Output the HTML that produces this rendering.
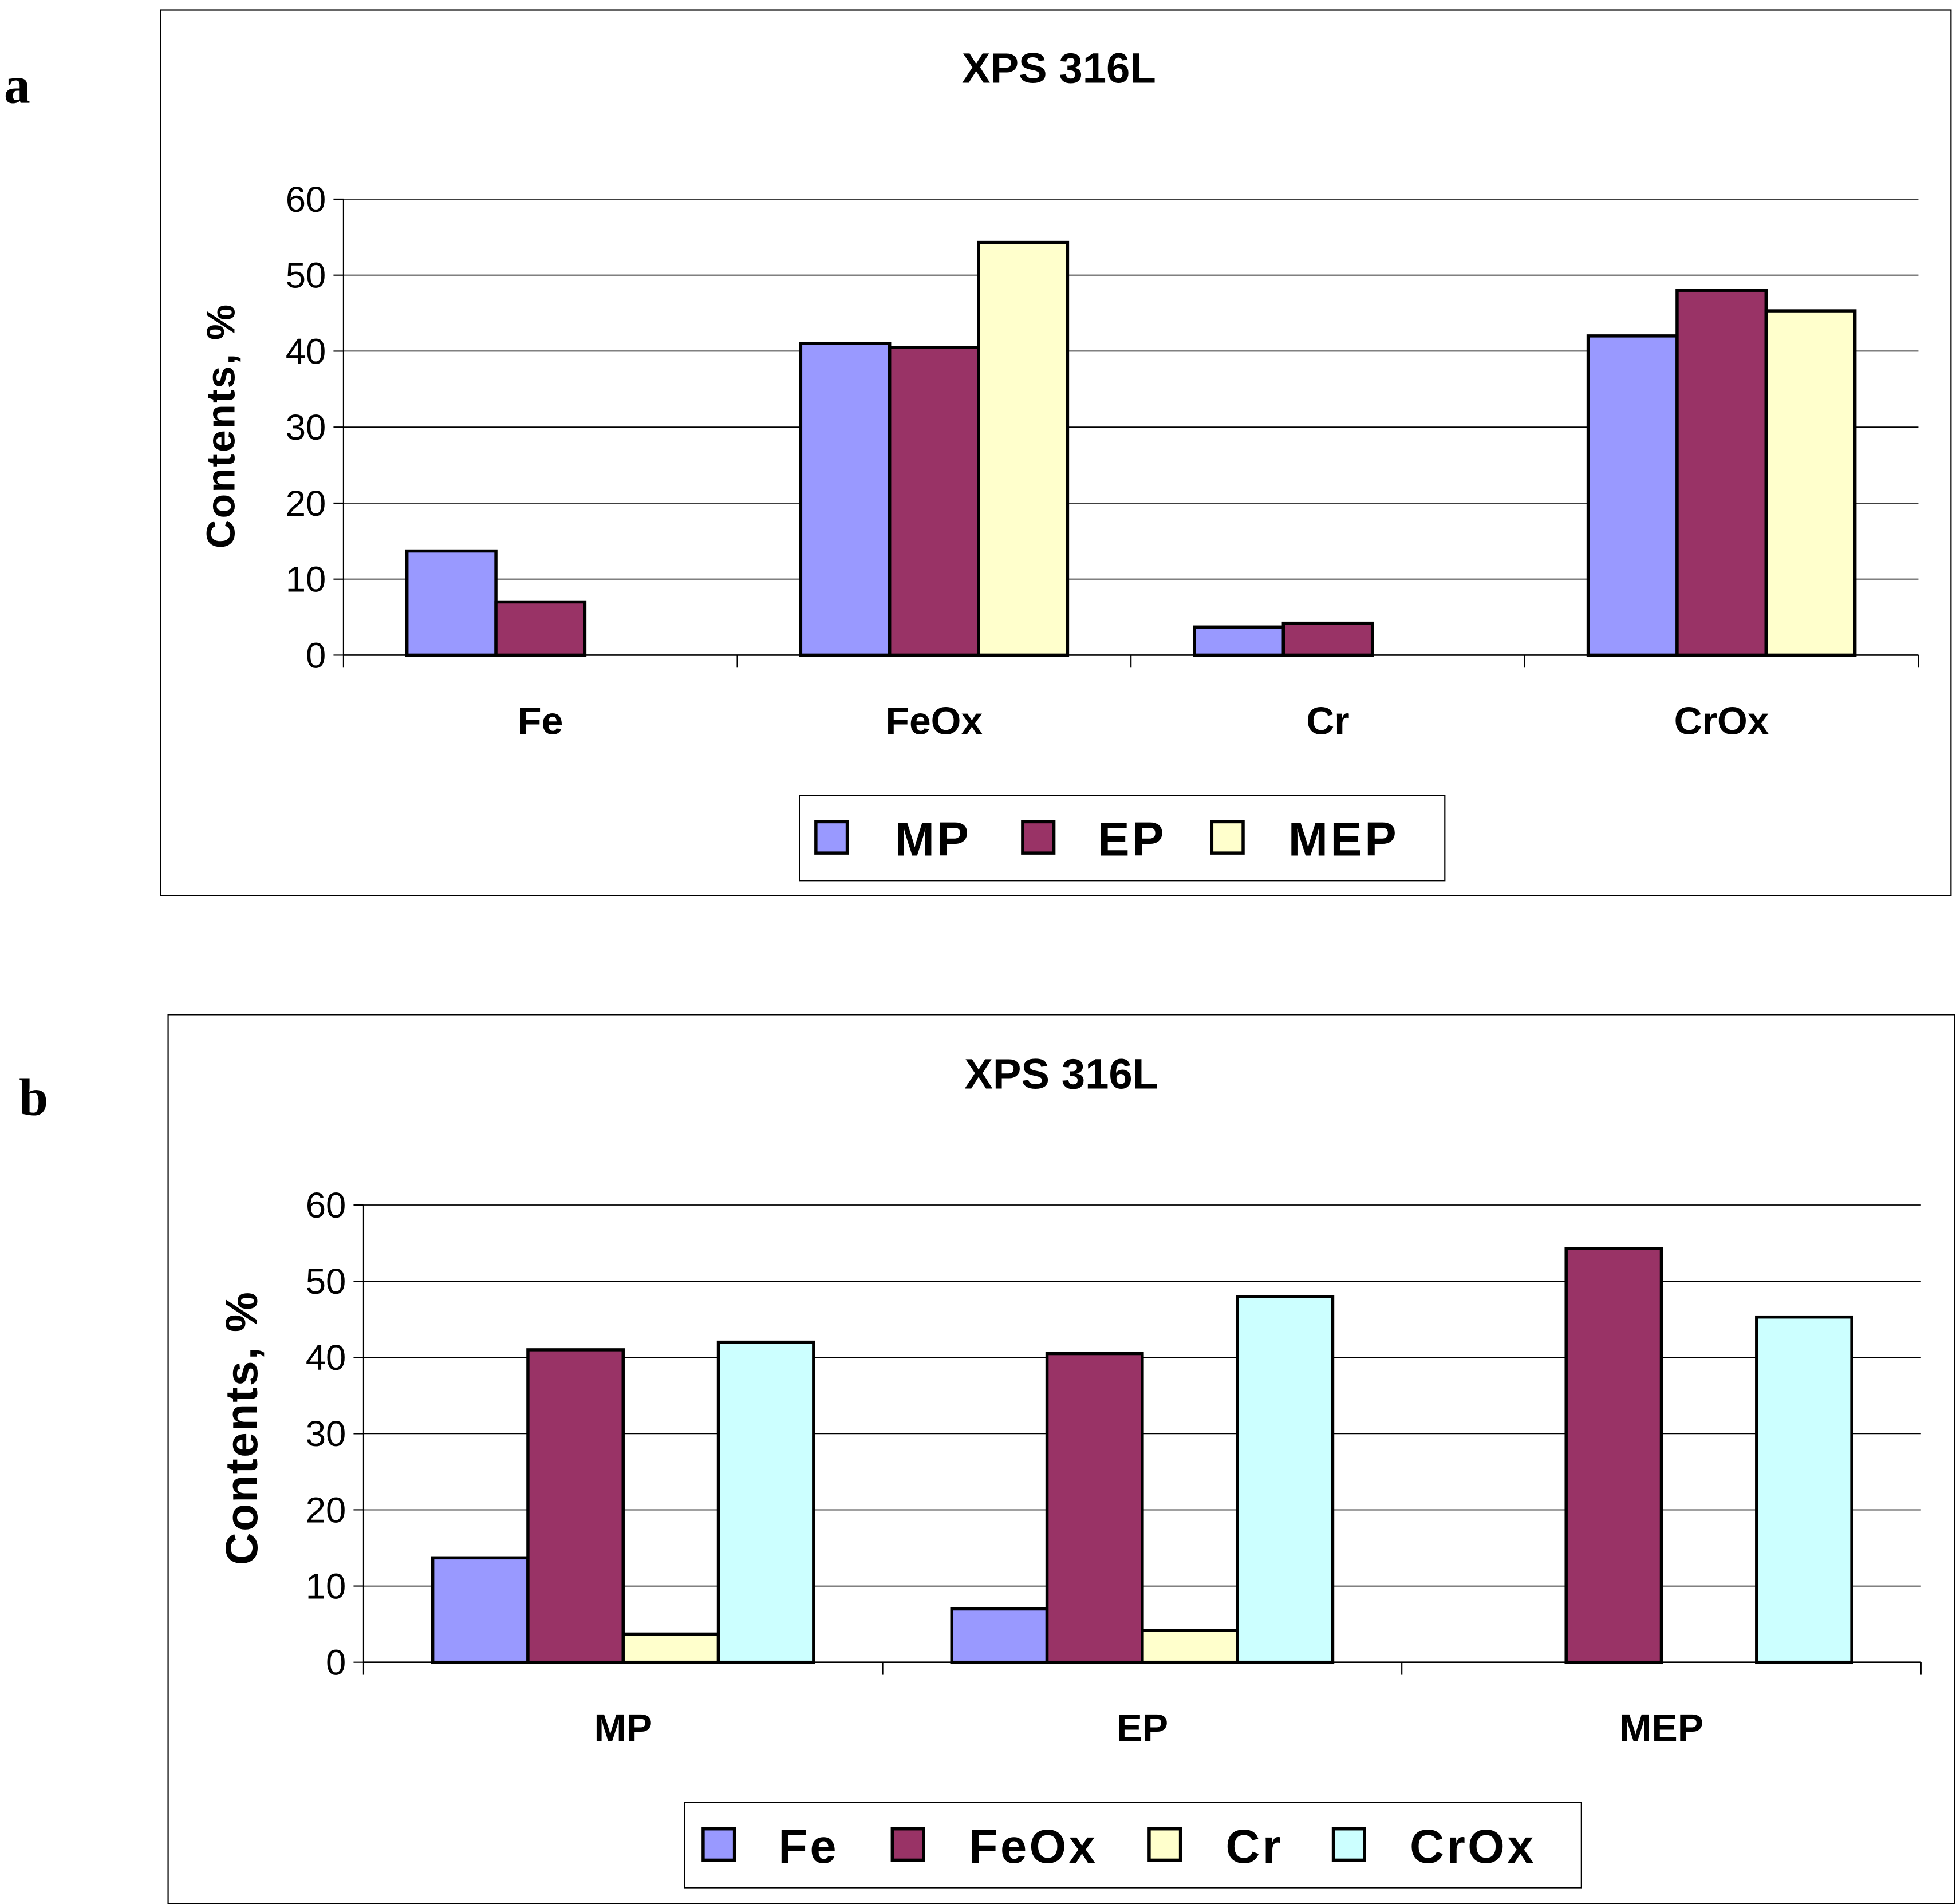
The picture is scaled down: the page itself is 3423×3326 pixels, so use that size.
<!DOCTYPE html>
<html><head><meta charset="utf-8"><style>html,body{margin:0;padding:0;background:#fff}svg{display:block}</style></head>
<body>
<svg id="fig" xmlns="http://www.w3.org/2000/svg" width="3423" height="3326" viewBox="0 0 1564 1520" font-family="Liberation Sans, Arial, sans-serif">
<rect width="1564" height="1520" fill="#fff"/>
<text x="3" y="82" font-family="Liberation Serif, serif" font-weight="bold" font-size="42">a</text>
<text x="15" y="890" font-family="Liberation Serif, serif" font-weight="bold" font-size="42">b</text>
<g id="chartA"></g>
<g id="chartB"></g>
</svg>
<script>
const catsA = ["Fe","FeOx","Cr","CrOx"];
const seriesA = ["MP","EP","MEP"];
const mpA = [13.7, 41, 3.7, 42];
const epA = [7, 40.5, 4.2, 48];
const mepA = [0, 54.3, 0, 45.3];
const catsB = ["MP","EP","MEP"];
const seriesB = ["Fe","FeOx","Cr","CrOx"];
const feB = [13.7, 7, 0];
const feoxB = [41, 40.5, 54.3];
const crB = [3.7, 4.2, 0];
const croxB = [42, 48, 45.3];
const yTicks = [0,10,20,30,40,50,60];

const NS="http://www.w3.org/2000/svg";
function mk(parent,tag,attrs,text){const e=document.createElementNS(NS,tag);for(const k in attrs)e.setAttribute(k,attrs[k]);if(text!==undefined)e.textContent=text;parent.appendChild(e);return e;}

function draw(g,cfg){
  const yS=v=>cfg.y0-(v/60)*(cfg.y0-cfg.y60);
  let r=mk(g,'rect',{x:cfg.fx,y:cfg.fy,width:cfg.fw,height:cfg.fh,fill:'none',stroke:'#000','stroke-width':1});
  
  
  let t=mk(g,'text',{x:cfg.tx,y:cfg.ty,'text-anchor':'middle','font-weight':'bold','font-size':34},'XPS 316L');
  
  
  yTicks.forEach(v=>{
    const y=yS(v);
    if(v>0){const l=mk(g,'line',{x1:cfg.px0,x2:cfg.px1,y1:y,y2:y,stroke:'#000','stroke-width':0.8});
      
      }
    mk(g,'line',{x1:cfg.px0-8,x2:cfg.px0,y1:y,y2:y,stroke:'#000','stroke-width':1});
    const tl=mk(g,'text',{x:cfg.px0-14,y:y+10,'text-anchor':'end','font-size':29},String(v));
    
    
  });
  mk(g,'line',{x1:cfg.px0,x2:cfg.px0,y1:cfg.y60,y2:cfg.y0,stroke:'#000','stroke-width':1});
  mk(g,'line',{x1:cfg.px0,x2:cfg.px1,y1:cfg.y0,y2:cfg.y0,stroke:'#000','stroke-width':1.2});
  const n=cfg.cats.length, gw=(cfg.px1-cfg.px0)/n;
  for(let i=0;i<=n;i++){const x=cfg.px0+i*gw;mk(g,'line',{x1:x,x2:x,y1:cfg.y0,y2:cfg.y0+10,stroke:'#000','stroke-width':1});}
  const ns=cfg.series.length, bw=cfg.bw, off=(gw-ns*bw)/2;
  cfg.cats.forEach((c,i)=>{
    const gx=cfg.px0+i*gw;
    cfg.vals.forEach((arr,s)=>{
      const v=arr[i]; if(v<=0) return;
      const b=mk(g,'rect',{x:gx+off+s*bw,y:yS(v),width:bw,height:cfg.y0-yS(v),fill:cfg.colors[s],stroke:'#000','stroke-width':2.5});
      
      
    });
    const cl=mk(g,'text',{x:gx+gw/2,y:cfg.cy,'text-anchor':'middle','font-weight':'bold','font-size':31},c);
    
    
  });
  const yt=mk(g,'text',{transform:`translate(${cfg.ytx},${cfg.yty}) rotate(-90)`,'text-anchor':'middle','font-weight':'bold','font-size':cfg.ytfs,'letter-spacing':1},'Contents, %');
  
  
  const lg=mk(g,'g',{});
  
  
  mk(lg,'rect',{x:cfg.lx,y:cfg.ly,width:cfg.lw,height:cfg.lh,fill:'#fff',stroke:'#000','stroke-width':1});
  cfg.series.forEach((s,k)=>{
    const e=mk(lg,'g',{});
    
    
    mk(e,'rect',{x:cfg.mx[k],y:cfg.ly+21,width:25,height:25,fill:cfg.colors[k],stroke:'#000','stroke-width':2.5});
    mk(e,'text',{x:cfg.txs[k],y:cfg.ly+48,'font-weight':'bold','font-size':38,'letter-spacing':2},s);
  });
}
draw(document.getElementById('chartA'),{fx:128,fy:8,fw:1429,fh:707,tx:845,ty:66,px0:274,px1:1531,y0:523,y60:159,
  cats:catsA,series:seriesA,vals:[mpA,epA,mepA],colors:['#9999FF','#993366','#FFFFCC'],bw:71,cy:586,
  ytx:187,yty:340,ytfs:32,lx:638,ly:635,lw:515,lh:68,mx:[651,816,967],txs:[714,876,1028]});
draw(document.getElementById('chartB'),{fx:134,fy:810,fw:1426,fh:710,tx:847,ty:869,px0:290,px1:1533,y0:1327,y60:962,
  cats:catsB,series:seriesB,vals:[feB,feoxB,crB,croxB],colors:['#9999FF','#993366','#FFFFCC','#CCFFFF'],bw:76,cy:1390,
  ytx:205,yty:1140,ytfs:36,lx:546,ly:1439,lw:716,lh:68,mx:[561,712,917,1064],txs:[621,773,978,1125]});
</script>
</body></html>
